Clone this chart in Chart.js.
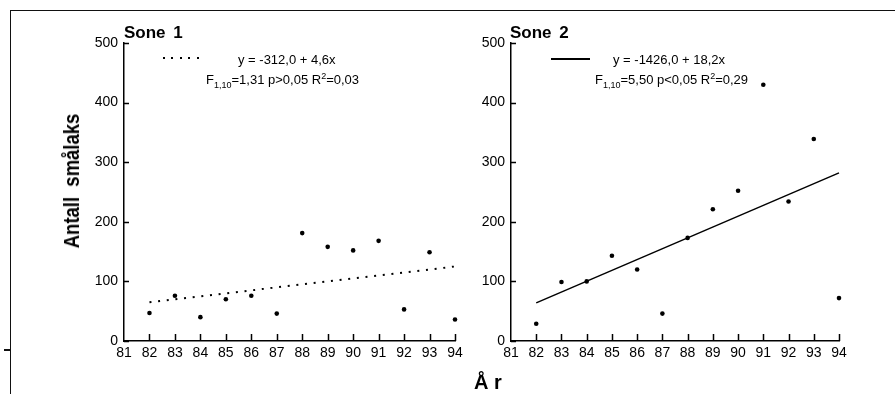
<!DOCTYPE html>
<html>
<head>
<meta charset="utf-8">
<script src="https://cdn.jsdelivr.net/npm/chart.js@4/dist/chart.umd.min.js"></script>
<style>
  body { margin: 0; background: #fff; font-family: "Liberation Sans", Arial, sans-serif; color: #000; }
  #page { position: relative; width: 895px; height: 394px; overflow: hidden; }
  .abs { position: absolute; white-space: nowrap; }
  canvas { position: absolute; top: 0; }
  .note { font-size: 13px; line-height: 15px; }
  .note sub, .note sup { font-size: 9px; line-height: 0; }
  .panel-title { font-size: 17px; font-weight: bold; word-spacing: 3px; line-height: 20px; }
</style>
</head>
<body>
<div id="page">
  <div class="abs" style="left:10px;top:10px;width:885px;height:384px;border-top:1.5px solid #111;border-left:1.5px solid #111;"></div>
  <div class="abs" style="left:4px;top:349px;width:6px;height:1.5px;background:#111;"></div>

  <canvas id="chart_sone1" width="400" height="394" style="left:80px"></canvas>
  <canvas id="chart_sone2" width="400" height="394" style="left:470px"></canvas>

  <div class="abs panel-title" style="left:124px;top:23px;">Sone 1</div>
  <div class="abs panel-title" style="left:510px;top:23px;">Sone 2</div>

  <div class="abs" style="left:163px;top:57px;width:40px;height:2px;background:repeating-linear-gradient(to right,#000 0 2px,transparent 2px 8.4px);"></div>
  <div class="abs note" style="left:238px;top:52px;">y = -312,0 + 4,6x</div>
  <div class="abs note" style="left:206px;top:72px;">F<sub>1,10</sub>=1,31 p&gt;0,05 R<sup>2</sup>=0,03</div>

  <div class="abs" style="left:551px;top:58px;width:39px;height:1.5px;background:#000;"></div>
  <div class="abs note" style="left:613px;top:52px;">y = -1426,0 + 18,2x</div>
  <div class="abs note" style="left:595px;top:72px;">F<sub>1,10</sub>=5,50 p&lt;0,05 R<sup>2</sup>=0,29</div>

  <div class="abs" style="left:72px;top:181px;transform:translate(-50%,-50%) rotate(-90deg) scaleX(0.84);font-size:22px;font-weight:bold;">Antall&nbsp; smålaks</div>
  <div class="abs" style="left:488px;top:382px;transform:translate(-50%,-50%);font-size:20px;font-weight:bold;">Å r</div>
</div>

<script>
// years on the x axis
const years = [82, 83, 84, 85, 86, 87, 88, 89, 90, 91, 92, 93, 94];
const xTickYears = [81, 82, 83, 84, 85, 86, 87, 88, 89, 90, 91, 92, 93, 94];
const yTickValues = [0, 100, 200, 300, 400, 500];

// antall smålaks per år
const sone1Values = [47, 76, 40, 70, 76, 46, 181, 158, 152, 168, 53, 149, 36];
const sone2Values = [29, 99, 100, 143, 120, 46, 173, 221, 252, 430, 234, 339, 72];

// regression lines, read at 82 and 94
const trendYears = [82, 94];
const sone1Trend = [65, 125];
const sone2Trend = [64, 282];

Chart.defaults.font.family = '"Liberation Sans", Arial, sans-serif';
Chart.defaults.color = '#000';

const inwardTicks = {
    id: 'inwardTicks',
    afterDraw(chart) {
        const ctx = chart.ctx;
        const xs = chart.scales.x, ys = chart.scales.y;
        const area = chart.chartArea;
        ctx.save();
        ctx.strokeStyle = '#000';
        ctx.lineWidth = 1.5;
        ctx.beginPath();
        years.forEach(function (yr) {
            const px = Math.round(xs.getPixelForValue(yr)) + 0.5;
            ctx.moveTo(px, area.bottom);
            ctx.lineTo(px, area.bottom - 7);
        });
        yTickValues.forEach(function (v) {
            const py = Math.round(ys.getPixelForValue(v)) + 0.5;
            ctx.moveTo(area.left, py);
            ctx.lineTo(area.left + 5, py);
        });
        ctx.stroke();
        ctx.restore();
    }
};

function makeConfig(values, trend, dashed, yWidth, padRight) {
    return {
        type: 'scatter',
        data: {
            datasets: [
                {
                    label: 'trend',
                    data: trendYears.map((x, i) => ({ x: x, y: trend[i] })),
                    showLine: true,
                    pointRadius: 0,
                    borderColor: '#000',
                    borderWidth: dashed ? 2 : 1.5,
                    borderDash: dashed ? [2, 6.7] : [],
                    borderCapStyle: 'butt',
                    clip: false
                },
                {
                    label: 'obs',
                    data: years.map((x, i) => ({ x: x, y: values[i] })),
                    pointRadius: 2.3,
                    pointBackgroundColor: '#000',
                    pointBorderWidth: 0,
                    showLine: false,
                    clip: false
                }
            ]
        },
        options: {
            responsive: false,
            animation: false,
            devicePixelRatio: 1,
            layout: { padding: { top: 43, right: padRight, left: 0, bottom: 0 } },
            plugins: { legend: { display: false }, tooltip: { enabled: false }, title: { display: false } },
            scales: {
                x: {
                    type: 'linear', min: 81, max: 94,
                    afterBuildTicks: s => { s.ticks = xTickYears.map(v => ({ value: v })); },
                    afterFit: s => { s.height = 53; },
                    ticks: { font: { size: 14 }, padding: 4, autoSkip: false, maxRotation: 0, color: '#000' },
                    grid: { display: false, drawTicks: false },
                    border: { display: true, color: '#000', width: 1.5 }
                },
                y: {
                    type: 'linear', min: 0, max: 500,
                    afterBuildTicks: s => { s.ticks = yTickValues.map(v => ({ value: v })); },
                    afterFit: s => { s.width = yWidth; },
                    ticks: { font: { size: 14 }, padding: 6, color: '#000' },
                    grid: { display: false, drawTicks: false },
                    border: { display: true, color: '#000', width: 1.5 }
                }
            }
        },
        plugins: [inwardTicks]
    };
}

const ctx_sone1 = document.getElementById('chart_sone1').getContext('2d');
const chart_sone1 = new Chart(ctx_sone1, makeConfig(sone1Values, sone1Trend, true, 44, 25));

const ctx_sone2 = document.getElementById('chart_sone2').getContext('2d');
const chart_sone2 = new Chart(ctx_sone2, makeConfig(sone2Values, sone2Trend, false, 41, 31));
</script>
</body>
</html>
